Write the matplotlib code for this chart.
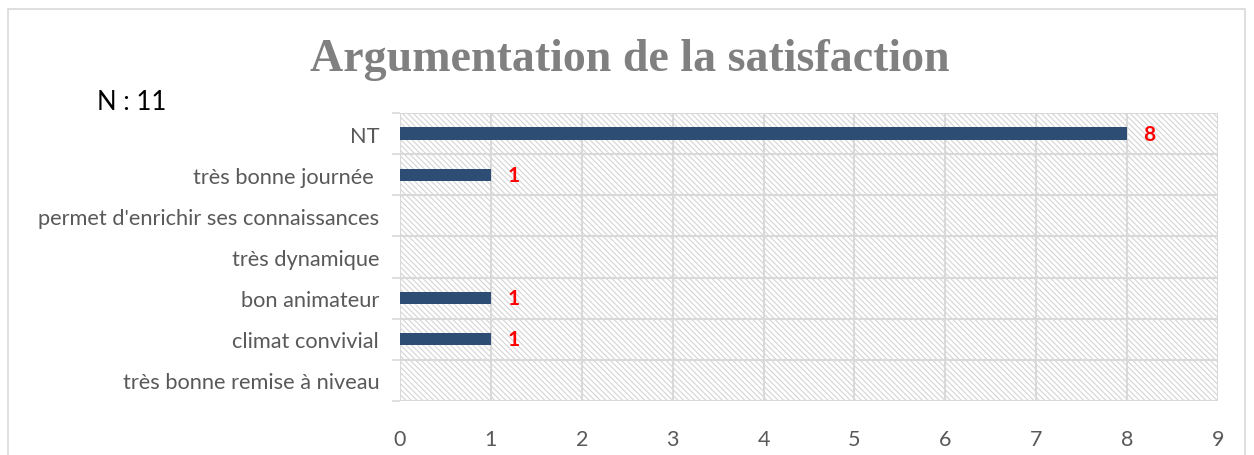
import matplotlib
matplotlib.use("Agg")
import matplotlib.pyplot as plt
from matplotlib.patches import Rectangle

categories = ["NT", "très bonne journée ", "permet d'enrichir ses connaissances",
              "très dynamique", "bon animateur", "climat convivial",
              "très bonne remise à niveau"]
values = [8, 1, 0, 0, 1, 1, 0]
xticks = list(range(0, 10))

plt.rcParams['hatch.color'] = '#d4d4d4'
plt.rcParams['hatch.linewidth'] = 0.8

fig = plt.figure(figsize=(12.54, 4.56), dpi=100)
fig.patches.append(Rectangle((8/1254, -0.05), 1237/1254, 1.05 - 10/456, transform=fig.transFigure,
                             fill=False, edgecolor='#d9d9d9', linewidth=1.2))
ax = fig.add_axes([400/1254, 1-402/456, 818/1254, 288/456])

n = len(categories)
ypos = list(range(n))[::-1]
ax.set_xlim(0, 9)
ax.set_ylim(-0.5, n-0.5)

ax.add_patch(Rectangle((0, -0.5), 9, n, hatch='\\\\\\\\\\\\', facecolor='white',
                       edgecolor='#d4d4d4', linewidth=0, zorder=0))

for x in xticks:
    ax.axvline(x, color='#d9d9d9', linewidth=1.5, zorder=1)
for k in range(n+1):
    ax.axhline(k-0.5, color='#d9d9d9', linewidth=1.5, zorder=1)

ax.barh(ypos, values, height=0.3, color='#2e4d74', zorder=3)
for y, v in zip(ypos, values):
    if v > 0:
        ax.text(v + 0.18, y, str(v), color='#ff0000', fontsize=15, fontweight='bold',
                va='center', ha='left', family='Lato', zorder=4)

ax.set_yticks(ypos)
ax.set_yticklabels(categories)
ax.set_yticks([k-0.5 for k in range(n+1)], minor=True)
ax.tick_params(axis='y', which='major', length=0, pad=15, labelsize=15.7, labelcolor='#595959')
ax.tick_params(axis='y', which='minor', length=6, color='#d9d9d9', width=1.2)
ax.set_xticks(xticks)
ax.tick_params(axis='x', length=0, pad=20, labelsize=15.5, labelcolor='#595959')
for lab in ax.get_yticklabels() + ax.get_xticklabels():
    lab.set_family('Lato')
for s in ax.spines.values():
    s.set_visible(False)

fig.text(630/1254, 1-60/456, "Argumentation de la satisfaction", ha='center', va='center',
         fontsize=33, fontweight='bold', color='#808080', family='Liberation Serif')
fig.text(97/1254, 1-102/456, "N : 11", ha='left', va='center', fontsize=18.5,
         color='black', family='Lato')

fig.savefig("out.png", dpi=100)
